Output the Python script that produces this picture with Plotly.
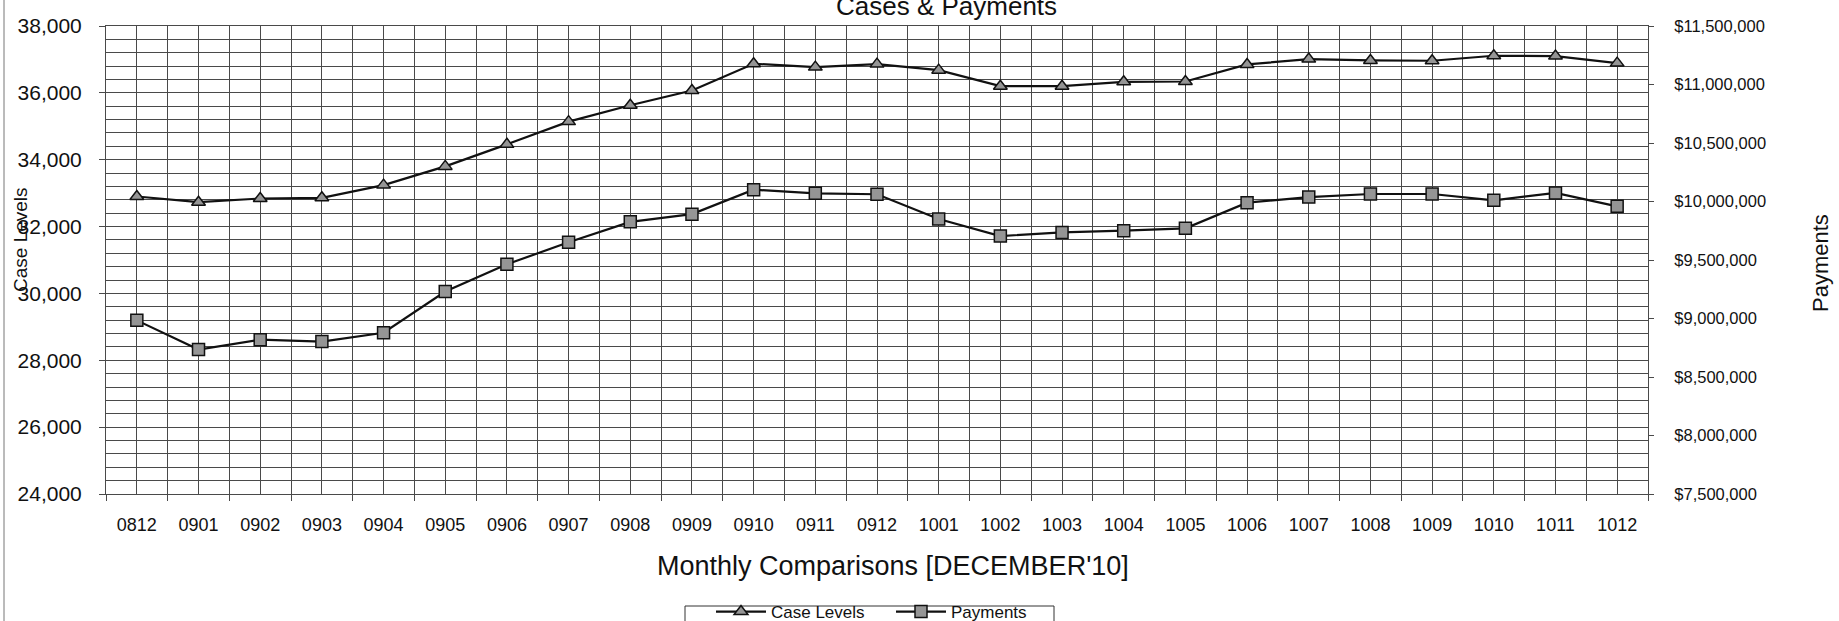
import plotly.graph_objects as go

categories = ['0812', '0901', '0902', '0903', '0904', '0905', '0906', '0907', '0908', '0909',
              '0910', '0911', '0912', '1001', '1002', '1003', '1004', '1005', '1006', '1007',
              '1008', '1009', '1010', '1011', '1012']
case_levels = [32900, 32730, 32840, 32860, 33240, 33800, 34460, 35140, 35630, 36070,
               36870, 36770, 36860, 36680, 36200, 36200, 36330, 36340, 36850, 37010,
               36970, 36960, 37110, 37100, 36890]
payments = [8984000, 8735000, 8819000, 8803000, 8878000, 9231000, 9463000, 9652000, 9826000, 9892000,
            10101000, 10070000, 10062000, 9850000, 9705000, 9736000, 9751000, 9771000, 9990000, 10038000,
            10064000, 10064000, 10010000, 10073000, 9959000]

W, H = 1839, 621
L, R, T, B = 106, 1648, 26, 494
FONT = "Liberation Sans, Arial, sans-serif"
GRID = "#4a4a4a"


def px(x):
    return (x - L) / (R - L)


def py(y):
    return (B - y) / (B - T)


fig = go.Figure()
fig.add_trace(go.Scatter(
    x=categories, y=case_levels, name="Case Levels", mode="lines+markers",
    line=dict(color="#111111", width=2.2),
    marker=dict(symbol="triangle-up", size=12, color="#959595",
                line=dict(color="#111111", width=1.5)),
    xaxis="x", yaxis="y"))
fig.add_trace(go.Scatter(
    x=categories, y=payments, name="Payments", mode="lines+markers",
    line=dict(color="#111111", width=2.2),
    marker=dict(symbol="square", size=12, color="#959595",
                line=dict(color="#111111", width=1.5)),
    xaxis="x2", yaxis="y2"))

n = len(categories)
fig.update_layout(
    width=W, height=H,
    margin=dict(l=L, r=W - R, t=T, b=H - B, pad=0, autoexpand=False),
    paper_bgcolor="white", plot_bgcolor="white",
    font=dict(family=FONT, color="#111111"),
    showlegend=True,
    legend=dict(orientation="h", x=px(711), xanchor="left", y=py(594), yanchor="top",
                bgcolor="rgba(0,0,0,0)", borderwidth=0,
                font=dict(size=17, family=FONT), itemwidth=50, traceorder="normal",
                entrywidth=115, entrywidthmode="pixels"),
    xaxis=dict(type="category", categoryorder="array", categoryarray=categories,
               range=[-0.5, n - 0.5], tickson="boundaries",
               showgrid=True, gridcolor=GRID, gridwidth=1,
               ticks="outside", ticklen=6, tickcolor=GRID,
               showline=True, linecolor=GRID, linewidth=1, mirror=True,
               tickfont=dict(size=18, family=FONT), ticklabelstandoff=14,
               zeroline=False),
    xaxis2=dict(type="category", categoryorder="array", categoryarray=categories,
                range=[-0.5, n - 0.5], overlaying="x", anchor="y2",
                showgrid=True, gridcolor=GRID, gridwidth=1,
                showticklabels=False, ticks="", showline=False, zeroline=False),
    yaxis=dict(range=[24000, 38000], dtick=2000, tickformat=",d",
               showgrid=True, gridcolor=GRID, gridwidth=1,
               minor=dict(dtick=400, showgrid=True, gridcolor=GRID, gridwidth=1),
               ticks="outside", ticklen=6, tickcolor=GRID,
               showline=True, linecolor=GRID, linewidth=1, mirror=True,
               tickfont=dict(size=21, family=FONT), ticklabelstandoff=13,
               zeroline=False),
    yaxis2=dict(range=[7500000, 11500000], dtick=500000, tickformat=",d", tickprefix="$",
                overlaying="y", side="right", anchor="x2",
                showgrid=False, ticks="outside", ticklen=5, tickcolor=GRID,
                tickfont=dict(size=16.5, family=FONT), ticklabelstandoff=17,
                zeroline=False, showline=False),
    annotations=[
        dict(text="Cases & Payments", x=px(947), y=py(6), xref="paper", yref="paper",
             xanchor="center", yanchor="middle", showarrow=False,
             font=dict(size=26, family=FONT)),
        dict(text="Monthly Comparisons [DECEMBER'10]", x=px(893), y=py(566),
             xref="paper", yref="paper", xanchor="center", yanchor="middle",
             showarrow=False, font=dict(size=27, family=FONT)),
        dict(text="Case Levels", x=px(20), y=py(240), xref="paper", yref="paper",
             xanchor="center", yanchor="middle", textangle=-90, showarrow=False,
             font=dict(size=19, family=FONT)),
        dict(text="Payments", x=px(1820), y=py(263), xref="paper", yref="paper",
             xanchor="center", yanchor="middle", textangle=-90, showarrow=False,
             font=dict(size=22, family=FONT)),
    ],
    shapes=[
        dict(type="line", xref="paper", yref="paper", x0=px(4), x1=px(4), y0=py(0), y1=py(621),
             line=dict(color="#777777", width=1)),
        dict(type="rect", xref="paper", yref="paper", x0=px(685), x1=px(1054),
             y0=py(606), y1=py(650), line=dict(color="#333333", width=1),
             fillcolor="rgba(0,0,0,0)", layer="below"),
    ],
)

fig.write_html("out.html",
               config={"displayModeBar": False},
               post_script="document.body.style.margin='0';"
                           "document.body.style.padding='0';"
                           "document.body.style.overflow='hidden';")
